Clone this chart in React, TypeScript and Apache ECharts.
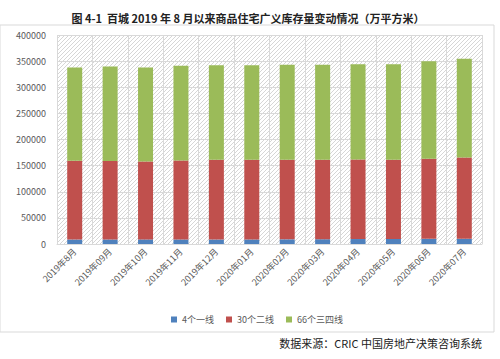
import React, { useEffect, useRef } from "react";
import * as echarts from "echarts";

const categories = ["2019年8月", "2019年09月", "2019年10月", "2019年11月", "2019年12月", "2020年01月", "2020年02月", "2020年03月", "2020年04月", "2020年05月", "2020年06月", "2020年07月"];
const tier1 = [8500, 8600, 8700, 8600, 8500, 8700, 8900, 9100, 9500, 9700, 9900, 10000];
const tier2 = [150800, 150100, 149300, 151400, 152700, 152500, 152300, 152100, 152300, 151500, 153200, 155600];
const tier34 = [178700, 181000, 180000, 181000, 181000, 181000, 181800, 181800, 182200, 182800, 186900, 188900];
const seriesNames = ["4个一线", "30个二线", "66个三四线"];
const titleText = "图 4-1  百城 2019 年 8 月以来商品住宅广义库存量变动情况（万平方米）";
const sourceText = "数据来源：CRIC 中国房地产决策咨询系统";

function makeHatch(): HTMLCanvasElement {
  const c = document.createElement("canvas");
  c.width = 4;
  c.height = 4;
  const ctx = c.getContext("2d")!;
  ctx.fillStyle = "#ffffff";
  ctx.fillRect(0, 0, 4, 4);
  ctx.strokeStyle = "#d6d6d6";
  ctx.lineWidth = 1;
  ctx.beginPath();
  ctx.moveTo(0, 4);
  ctx.lineTo(4, 0);
  ctx.moveTo(-1, 1);
  ctx.lineTo(1, -1);
  ctx.moveTo(3, 5);
  ctx.lineTo(5, 3);
  ctx.stroke();
  return c;
}

export default function App() {
  const ref = useRef<HTMLDivElement>(null);
  useEffect(() => {
    const chart = echarts.init(ref.current!, undefined, { renderer: "svg" });
    const font = "'Noto Sans CJK SC', 'Noto Sans', sans-serif";
    const colors = ["#4F81BD", "#C0504D", "#9BBB59"];
    chart.setOption({
      animation: false,
      backgroundColor: "#ffffff",
      textStyle: { fontFamily: font },
      title: {
        text: titleText,
        left: 243,
        textAlign: "center",
        top: 7,
        textStyle: { fontSize: 11, fontWeight: "bold", color: "#222", fontFamily: font },
      },
      graphic: [
        {
          type: "rect",
          shape: { x: 0, y: 25, width: 494, height: 307 },
          style: { fill: "none", stroke: "#d9d9d9", lineWidth: 1 },
          silent: true,
          z: -1,
        },
        {
          type: "text",
          x: 482,
          y: 343,
          style: {
            text: sourceText,
            fill: "#222",
            fontSize: 11,
            fontFamily: font,
            align: "right",
            verticalAlign: "middle",
          },
        },
      ],
      legend: {
        data: seriesNames,
        top: 310,
        left: 166,
        itemWidth: 6,
        itemHeight: 6,
        itemGap: 12,
        icon: "rect",
        textStyle: { fontSize: 9, color: "#595959", fontFamily: font },
      },
      grid: {
        left: 57,
        right: 18,
        top: 35,
        bottom: 115,
        show: true,
        borderWidth: 0,
        backgroundColor: { image: makeHatch(), repeat: "repeat" },
      },
      xAxis: {
        type: "category",
        data: categories,
        axisLine: { lineStyle: { color: "#d9d9d9" } },
        axisTick: { show: false },
        splitLine: { show: true, lineStyle: { color: "#d9d9d9", width: 1 } },
        axisLabel: { rotate: 45, fontSize: 9, color: "#595959", margin: 6, fontFamily: font },
      },
      yAxis: {
        type: "value",
        min: 0,
        max: 400000,
        interval: 50000,
        axisLine: { show: false },
        axisTick: { show: false },
        splitLine: { lineStyle: { color: "#d9d9d9", width: 1 } },
        axisLabel: {
          fontSize: 9,
          color: "#595959",
          margin: 11,
          fontFamily: font,
          formatter: (v: number) => String(v),
        },
      },
      series: [tier1, tier2, tier34].map((d, i) => ({
        name: seriesNames[i],
        type: "bar",
        stack: "total",
        data: d,
        barWidth: 15,
        itemStyle: { color: colors[i] },
      })),
    });
    return () => chart.dispose();
  }, []);
  return <div ref={ref} style={{ width: 500, height: 359, position: "absolute", left: 0, top: 0 }} />;
}
